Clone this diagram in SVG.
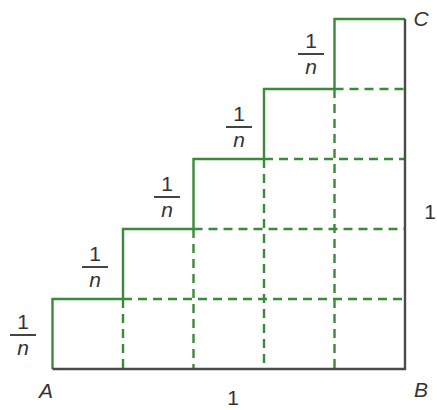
<svg xmlns="http://www.w3.org/2000/svg" width="437" height="410" viewBox="0 0 437 410">
<style>
.g{fill:none;stroke:#3a8a3a;stroke-width:2.4}
.d{fill:none;stroke:#3a8a3a;stroke-width:2.4;stroke-dasharray:9 6}
.k{fill:none;stroke:#4a4a4a;stroke-width:2.4}
.t{font-family:"Liberation Sans",Arial,sans-serif;font-size:21px;fill:#333;text-anchor:middle}
.i{font-style:italic}
.bar{stroke:#444;stroke-width:2}
</style>
<rect width="437" height="410" fill="#fff"/>
<g id="connectors">
<path class="d" d="M123,299H405M193.5,229H405M264,159H405M334.5,89H405"/>
<path class="d" d="M123,299V369M193.5,229V369M264,159V369M334.5,89V369"/>
<path class="g" d="M52.5,369V299H123V229H193.5V159H264V89H334.5V19H405"/>
<path class="k" d="M52.5,369H405V19"/>
</g>
<g id="frac1"><text class="t" x="23" y="329">1</text><line class="bar" x1="10" y1="335" x2="36" y2="335"/><text class="t i" x="23" y="355">n</text></g>
<g id="frac2"><text class="t" x="95" y="261">1</text><line class="bar" x1="82" y1="267" x2="108" y2="267"/><text class="t i" x="95" y="287">n</text></g>
<g id="frac3"><text class="t" x="167" y="191">1</text><line class="bar" x1="154" y1="197" x2="180" y2="197"/><text class="t i" x="167" y="217">n</text></g>
<g id="frac4"><text class="t" x="239" y="121">1</text><line class="bar" x1="226" y1="127" x2="252" y2="127"/><text class="t i" x="239" y="147">n</text></g>
<g id="frac5"><text class="t" x="311" y="48">1</text><line class="bar" x1="298" y1="54" x2="324" y2="54"/><text class="t i" x="311" y="74">n</text></g>
<g id="A"><text class="t i" x="46" y="398">A</text></g>
<g id="B"><text class="t i" x="421" y="397">B</text></g>
<g id="C"><text class="t i" x="421" y="26">C</text></g>
<g id="one-bottom"><text class="t" x="233" y="405">1</text></g>
<g id="one-right"><text class="t" x="430" y="219">1</text></g>
</svg>
